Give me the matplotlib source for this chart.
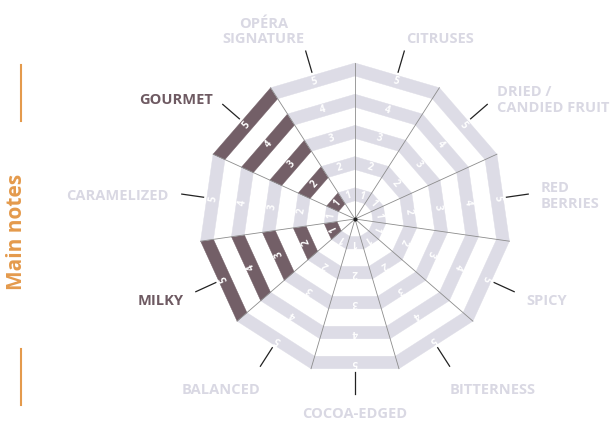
import numpy as np
import matplotlib
matplotlib.use("Agg")
import matplotlib.pyplot as plt
from matplotlib.patches import Polygon

# categories clockwise, starting right of the top spoke
categories = ["CITRUSES", "DRIED /\nCANDIED FRUIT", "RED\nBERRIES", "SPICY", "BITTERNESS",
              "COCOA-EDGED", "BALANCED", "MILKY", "CARAMELIZED", "GOURMET", "OPÉRA\nSIGNATURE"]
scores = [0, 0, 0, 0, 0, 0, 0, 5, 0, 5, 0]
levels = [1, 2, 3, 4, 5]

LIGHT = "#dddce6"
DARK = "#735f67"
LABEL_LIGHT = "#d9d8e3"
LABEL_DARK = "#6e5a62"
ORANGE = "#e49a4c"

plt.rcParams['font.family'] = ['Open Sans', 'DejaVu Sans']

fig = plt.figure(figsize=(6.14, 4.23), dpi=100)
ax = fig.add_axes([0, 0, 1, 1])
ax.set_xlim(0, 614)
ax.set_ylim(423, 0)
ax.axis("off")

cx, cy = 355, 219
step = 31.2     # ring spacing (vertex radius)
band = 13       # band thickness (vertex radius)
n = len(categories)
sector = 2 * np.pi / n
half = sector / 2


def pt(r, a):
    return cx + r * np.cos(a), cy - r * np.sin(a)


for i, (cat, val) in enumerate(zip(categories, scores)):
    a0 = np.pi / 2 - i * sector
    a1 = a0 - sector
    mid = a0 - half
    for k in levels:
        ro = step * k
        ri = ro - band
        col = DARK if k <= val else LIGHT
        poly = Polygon([pt(ro, a0), pt(ro, a1), pt(ri, a1), pt(ri, a0)],
                       closed=True, fc=col, ec=col, lw=0.3, zorder=1)
        ax.add_patch(poly)
        rm = (ro + ri) / 2 * np.cos(half)
        x, y = pt(rm, mid)
        ax.text(x, y, str(k), color="white", fontsize=7, fontweight="bold",
                rotation=np.degrees(mid) - 90, ha="center", va="center",
                rotation_mode="anchor", zorder=3)

    # leader line
    x0, y0 = pt(153, mid)
    x1, y1 = pt(175, mid)
    ax.plot([x0, x1], [y0, y1], color="#222222", lw=0.9, zorder=2)

    # label
    c, s = np.cos(mid), np.sin(mid)
    if c > 0.1:
        ha = "left"
    elif c < -0.1:
        ha = "right"
    else:
        ha = "center"
    va = "center"
    lx, ly = pt(188, mid)
    ly += 4
    if s > 0.9:
        va = "bottom"
        lx, ly = pt(180, mid)
    elif s < -0.6 and ha != "center":
        va = "top"
        lx = cx + 175 * c
        ly = cy - 195 * s
    elif ha == "center":
        lx, ly = pt(195, mid)
    ax.text(lx, ly, cat, color=LABEL_DARK if val > 0 else LABEL_LIGHT,
            fontsize=10.5, fontweight="bold", ha=ha, va=va,
            multialignment="center" if "OPÉRA" in cat else ha, linespacing=1.15)

# spokes
R = step * levels[-1]
for i in range(n):
    a = np.pi / 2 - i * sector
    x, y = pt(R, a)
    ax.plot([cx, x], [cy, y], color="#8c8c8c", lw=0.6, zorder=2)
ax.plot(cx, cy, "o", color="#222222", ms=2, zorder=4)

# side title
ax.text(17, 232, "Main notes", color=ORANGE, fontsize=15, fontweight="bold",
        rotation=90, ha="center", va="center")
ax.plot([20.5, 20.5], [65, 121], color=ORANGE, lw=1.5)
ax.plot([20.5, 20.5], [349, 405], color=ORANGE, lw=1.5)

fig.savefig("out.png", dpi=100, facecolor="white")
